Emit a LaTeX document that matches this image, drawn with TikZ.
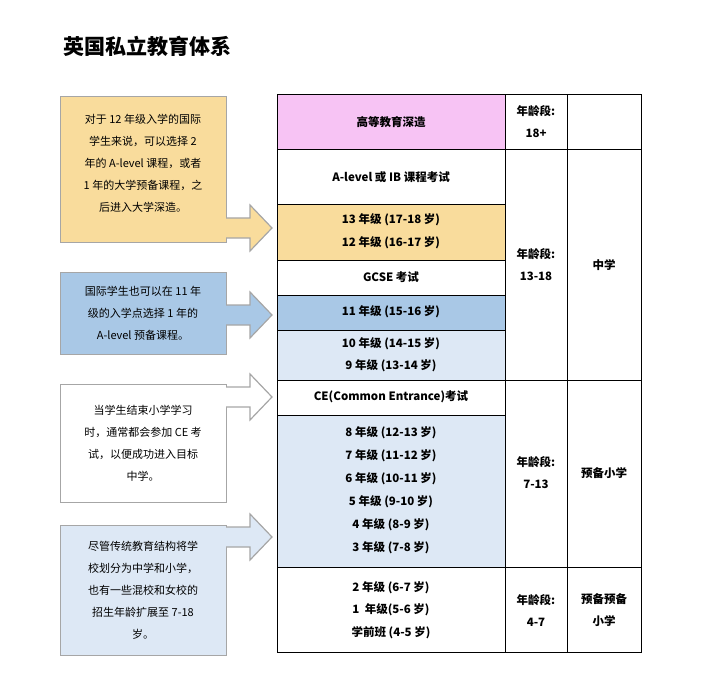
\documentclass[tikz,border=0pt]{standalone}
\usepackage{fontspec}
\setmainfont{Noto Sans CJK SC}
\usepackage{tikz}
\definecolor{ylw}{HTML}{F9DC9C}
\definecolor{blu}{HTML}{A9C8E6}
\definecolor{lblu}{HTML}{DDE8F5}
\definecolor{pnk}{HTML}{F7C3F4}
\newcommand{\sidearrow}[2]{% fill colour, centre y
  \fill[#1] (226,#2-10) -- (250,#2-10) -- (250,#2-23) -- (272,#2) -- (250,#2+23) -- (250,#2+10) -- (226,#2+10) -- cycle;
  \draw[gray!70,line width=1.2pt] (226,#2-10) -- (250,#2-10) -- (250,#2-23) -- (272,#2) -- (250,#2+23) -- (250,#2+10) -- (226,#2+10);}
\begin{document}
\begin{tikzpicture}[x=1pt,y=-1pt,
    note/.style={align=center,font=\fontsize{11}{22}\selectfont,inner sep=0pt},
    cell/.style={font=\bfseries\fontsize{11.5}{13}\selectfont,align=center},
    grid/.style={draw=black,line width=1pt}]
  \useasboundingbox (0,0) rectangle (720,687);
  \node[font=\bfseries\fontsize{21}{24}\selectfont,anchor=west] (title) at (60,46) {英国私立教育体系};

  % side notes
  \fill[ylw] (60,97) rectangle (226,242);
  \draw[gray!70,line width=1pt] (60,97) rectangle (226,242);
  \node[note] (n1) at (143,163) {对于 12 年级入学的国际\\学生来说，可以选择 2\\年的 A-level 课程，或者\\1 年的大学预备课程，之\\后进入大学深造。};
  \fill[blu] (60,272) rectangle (226,354);
  \draw[gray!70,line width=1pt] (60,272) rectangle (226,354);
  \node[note] (n2) at (143,313) {国际学生也可以在 11 年\\级的入学点选择 1 年的\\A-level 预备课程。};
  \draw[gray!70,line width=1pt,fill=white] (60,384) rectangle (226,502);
  \node[note] (n3) at (143,443) {当学生结束小学学习\\时，通常都会参加 CE 考\\试，以便成功进入目标\\中学。};
  \fill[lblu] (60,525) rectangle (226,655);
  \draw[gray!70,line width=1pt] (60,525) rectangle (226,655);
  \node[note] (n4) at (143,590) {尽管传统教育结构将学\\校划分为中学和小学，\\也有一些混校和女校的\\招生年龄扩展至 7-18\\岁。};

  \sidearrow{ylw}{228}
  \sidearrow{blu}{315}
  \sidearrow{white}{397}
  \sidearrow{lblu}{537}

  % table fills
  \fill[pnk] (277,95) rectangle (505,150);
  \fill[ylw] (277,205) rectangle (505,260);
  \fill[blu] (277,295) rectangle (505,330);
  \fill[lblu] (277,330) rectangle (505,380);
  \fill[lblu] (277,415) rectangle (505,567);
  % table lines
  \draw[grid] (277,95) rectangle (641,652);
  \draw[grid] (505,95) -- (505,652) (567,95) -- (567,652);
  \foreach \y in {150,205,260,295,330,380,415,567}
    \draw[grid] (277,\y) -- (505,\y);
  \foreach \y in {150,380,567}
    \draw[grid] (505,\y) -- (641,\y);

  % grade cells
  \node[cell] (c1) at (391,122) {高等教育深造};
  \node[cell] (c2) at (391,177) {A-level 或 IB 课程考试};
  \node[cell] (g13) at (391,220) {13 年级 (17-18 岁)};
  \node[cell] (g12) at (391,243) {12 年级 (16-17 岁)};
  \node[cell] (c3) at (391,277) {GCSE 考试};
  \node[cell] (g11) at (391,312) {11 年级 (15-16 岁)};
  \node[cell] (g10) at (391,344) {10 年级 (14-15 岁)};
  \node[cell] (g9) at (391,366) {9 年级 (13-14 岁)};
  \node[cell] (c4) at (391,397) {CE(Common Entrance)考试};
  \foreach \g/\a [count=\i] in {8/12-13,7/11-12,6/10-11,5/9-10,4/8-9,3/7-8}
    \node[cell] (p\g) at (391,410+23*\i) {\g\ 年级 (\a\ 岁)};
  \node[cell] (g2) at (391,588) {2 年级 (6-7 岁)};
  \node[cell] (g1) at (391,610) {1\ \ 年级(5-6 岁)};
  \node[cell] (g0) at (391,633) {学前班 (4-5 岁)};

  % age and stage
  \node[cell,font=\bfseries\fontsize{11.5}{22}\selectfont] (a1) at (536,122) {年龄段:\\18+};
  \node[cell,font=\bfseries\fontsize{11.5}{22}\selectfont] (a2) at (536,265) {年龄段:\\13-18};
  \node[cell,font=\bfseries\fontsize{11.5}{22}\selectfont] (a3) at (536,473) {年龄段:\\7-13};
  \node[cell,font=\bfseries\fontsize{11.5}{22}\selectfont] (a4) at (536,610) {年龄段:\\4-7};
  \node[cell] (s2) at (604,265) {中学};
  \node[cell] (s3) at (604,473) {预备小学};
  \node[cell,font=\bfseries\fontsize{11.5}{22}\selectfont] (s4) at (604,610) {预备预备\\小学};
\end{tikzpicture}
\end{document}
